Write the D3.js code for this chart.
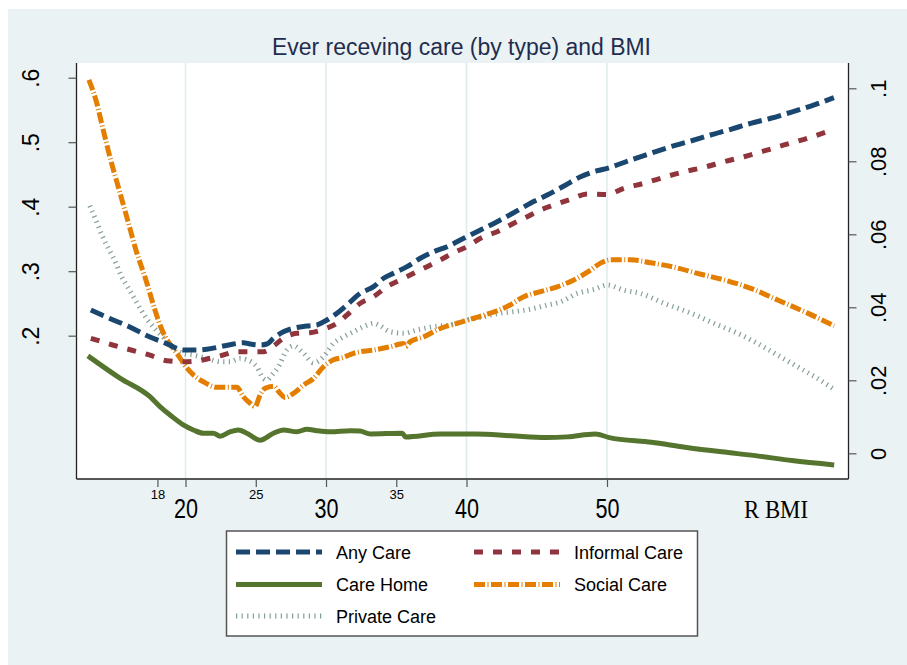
<!DOCTYPE html>
<html><head><meta charset="utf-8">
<script src="https://cdn.jsdelivr.net/npm/d3@7"></script>
<style>body{margin:0;background:#fff}svg{display:block}</style>
</head><body><svg id="c" width="907" height="665"></svg>
<script>
// ---- data (BMI, value) ----
const title = "Ever receving care (by type) and BMI";
const xTitle = "R BMI";
const xMajorTicks = [20, 30, 40, 50];
const xMinorTicks = [18, 25, 35];
const leftTicks = [0.2, 0.3, 0.4, 0.5, 0.6];
const rightTicks = [0, 0.02, 0.04, 0.06, 0.08, 0.1];
const seriesNames = ["Any Care", "Informal Care", "Care Home", "Social Care", "Private Care"];

// left axis series
const anyCare = [[13.26,0.2398],[14.57,0.2270],[15.99,0.2140],[17.31,0.1995],[18.61,0.1882],[19.84,0.1778],[20.75,0.1778],[21.51,0.1789],[22.46,0.1829],[23.41,0.1871],[24.12,0.1891],[24.60,0.1871],[25.31,0.1856],[25.79,0.1871],[26.26,0.1960],[26.97,0.2062],[27.68,0.2115],[28.64,0.2150],[29.35,0.2166],[30.06,0.2243],[30.78,0.2347],[31.49,0.2476],[32.44,0.2657],[33.39,0.2760],[34.10,0.2890],[34.81,0.2967],[35.77,0.3070],[36.71,0.3200],[37.66,0.3302],[38.62,0.3380],[39.80,0.3510],[40.99,0.3639],[42.18,0.3767],[43.36,0.3907],[44.55,0.4053],[45.74,0.4181],[46.93,0.4321],[48.12,0.4465],[49.31,0.4558],[50.02,0.4595],[51.68,0.4724],[53.11,0.4828],[54.53,0.4930],[55.96,0.5019],[57.38,0.5112],[58.81,0.5200],[60.23,0.5293],[61.66,0.5371],[63.08,0.5464],[64.51,0.5561],[66.15,0.5690]];
const informalCare = [[13.26,0.1960],[14.81,0.1856],[16.12,0.1778],[17.42,0.1701],[18.66,0.1612],[19.84,0.1597],[20.80,0.1608],[21.75,0.1650],[22.69,0.1701],[23.65,0.1752],[24.60,0.1752],[25.55,0.1752],[26.26,0.1840],[26.97,0.1960],[27.93,0.2037],[28.87,0.2047],[29.82,0.2099],[30.78,0.2192],[31.49,0.2321],[32.44,0.2502],[33.39,0.2605],[34.34,0.2760],[35.29,0.2864],[36.24,0.2967],[37.19,0.3070],[38.14,0.3174],[39.09,0.3287],[40.04,0.3380],[40.99,0.3510],[42.18,0.3612],[43.36,0.3743],[44.32,0.3845],[45.27,0.3949],[46.22,0.4026],[47.41,0.4115],[48.60,0.4197],[50.02,0.4189],[51.20,0.4285],[52.63,0.4363],[54.06,0.4456],[55.48,0.4543],[56.91,0.4611],[58.33,0.4698],[59.76,0.4775],[61.18,0.4864],[62.61,0.4957],[64.03,0.5045],[66.0,0.5189]];
// right axis series
const careHome = [[13.05,0.0267],[15.33,0.0206],[17.47,0.0155],[18.18,0.0128],[18.90,0.0105],[19.84,0.0078],[20.56,0.0064],[21.27,0.0055],[21.98,0.0055],[22.46,0.0047],[23.17,0.0059],[23.76,0.0064],[24.36,0.0055],[25.31,0.0036],[26.26,0.0055],[26.97,0.0064],[27.93,0.0059],[28.64,0.0066],[29.35,0.0062],[30.30,0.0059],[31.73,0.0062],[32.41,0.0061],[33.16,0.0053],[35.42,0.0055],[35.67,0.0045],[38.17,0.0053],[40.66,0.0053],[43.16,0.0048],[45.67,0.0043],[47.17,0.0045],[49.17,0.0053],[50.17,0.0043],[53.17,0.0030],[55.67,0.0016],[58.17,0.0004],[60.68,-0.0007],[63.17,-0.0020],[66.17,-0.0032]];
const socialCare = [[13.12,0.1023],[13.62,0.0968],[14.14,0.0886],[14.67,0.0804],[15.28,0.0721],[15.88,0.0639],[16.47,0.0557],[17.18,0.0475],[17.78,0.0398],[18.13,0.0357],[18.56,0.0319],[19.09,0.0289],[19.56,0.0264],[19.84,0.0247],[20.56,0.0215],[21.27,0.0196],[22.22,0.0181],[23.17,0.0181],[23.65,0.0181],[24.12,0.0155],[24.60,0.0137],[24.95,0.0128],[25.31,0.0160],[25.67,0.0178],[26.26,0.0184],[26.74,0.0164],[27.09,0.0153],[27.68,0.0164],[28.40,0.0187],[29.11,0.0205],[29.82,0.0237],[30.53,0.0256],[31.25,0.0263],[31.96,0.0274],[33.39,0.0283],[34.58,0.0292],[35.52,0.0301],[35.65,0.0292],[36.00,0.0306],[36.95,0.0319],[38.14,0.0342],[39.33,0.0356],[40.51,0.0370],[41.70,0.0384],[42.89,0.0402],[44.08,0.0429],[45.27,0.0443],[46.46,0.0456],[47.64,0.0475],[48.83,0.0502],[49.54,0.0521],[50.26,0.0530],[51.68,0.0530],[53.11,0.0522],[54.77,0.0510],[56.44,0.0493],[58.33,0.0475],[60.23,0.0452],[62.14,0.0420],[64.28,0.0384],[66.17,0.0349]];
const privateCare = [[13.19,0.0678],[13.62,0.0639],[14.10,0.0593],[14.57,0.0557],[15.05,0.0521],[15.40,0.0488],[15.88,0.0456],[16.35,0.0425],[16.83,0.0393],[17.31,0.0365],[17.90,0.0338],[18.49,0.0315],[19.09,0.0292],[19.80,0.0274],[20.56,0.0269],[21.51,0.0260],[22.46,0.0251],[23.17,0.0251],[23.88,0.0260],[24.36,0.0256],[25.07,0.0237],[25.55,0.0205],[25.79,0.0201],[26.15,0.0215],[26.61,0.0237],[27.21,0.0283],[27.68,0.0294],[28.40,0.0274],[29.11,0.0248],[29.82,0.0265],[30.53,0.0301],[31.25,0.0319],[31.96,0.0333],[32.67,0.0347],[33.39,0.0356],[33.86,0.0349],[34.58,0.0333],[35.52,0.0329],[36.48,0.0338],[37.66,0.0347],[38.85,0.0352],[40.04,0.0365],[41.23,0.0374],[42.42,0.0384],[43.36,0.0388],[44.55,0.0395],[45.74,0.0406],[46.69,0.0415],[47.88,0.0438],[49.07,0.0449],[50.02,0.0461],[51.20,0.0447],[52.40,0.0438],[54.06,0.0411],[55.96,0.0384],[57.86,0.0352],[59.29,0.0329],[60.71,0.0301],[62.14,0.0269],[63.57,0.0237],[64.99,0.0205],[66.06,0.0178]];

// ---- drawing ----
const svg = d3.select("#c");
const W = 907, H = 665;
const P = {l: 76.5, r: 848.5, t: 63, b: 479};

svg.append("rect").attr("width", W).attr("height", H).attr("fill", "#ffffff");
svg.append("rect").attr("x", 8).attr("y", 9).attr("width", W - 8).attr("height", H - 9).attr("fill", "#eaf2f3");
svg.append("rect").attr("x", P.l).attr("y", P.t).attr("width", P.r - P.l).attr("height", P.b - P.t).attr("fill", "#ffffff");

const x = d3.scaleLinear().domain([12.24, 67.19]).range([P.l, P.r]);
const yL = d3.scaleLinear().domain([-0.0222, 0.6228]).range([P.b, P.t]);
const yR = d3.scaleLinear().domain([-0.00704, 0.10693]).range([P.b, P.t]);

// grid
svg.append("g").selectAll("line").data(xMajorTicks).join("line")
  .attr("x1", d => x(d)).attr("x2", d => x(d)).attr("y1", P.t).attr("y2", P.b)
  .attr("stroke", "#e0ebee").attr("stroke-width", 1.6);

const fmt = d => d === 0 ? "0" : String(+d.toFixed(2)).replace(/^0/, "");
const FONT = "'Liberation Sans', Arial, sans-serif";

// left axis
const gL = svg.append("g").attr("transform", `translate(${P.l},0)`)
  .call(d3.axisLeft(yL).tickValues(leftTicks).tickFormat(fmt).tickSize(8).tickSizeOuter(0));
gL.select(".domain").attr("d", `M0,${P.t}V${P.b}`);
gL.selectAll("text").attr("x", null).attr("dy", null).attr("y", -37.5)
  .attr("transform", "rotate(-90)").attr("text-anchor", "middle")
  .attr("font-family", FONT).attr("font-size", 23).attr("fill", "#000");

// right axis
const gR = svg.append("g").attr("transform", `translate(${P.r},0)`)
  .call(d3.axisRight(yR).tickValues(rightTicks).tickFormat(fmt).tickSize(8).tickSizeOuter(0));
gR.select(".domain").attr("d", `M0,${P.t}V${P.b}`);
gR.selectAll("text").attr("x", null).attr("dy", null).attr("y", 37)
  .attr("transform", "rotate(-90)").attr("text-anchor", "middle")
  .attr("font-family", FONT).attr("font-size", 22).attr("fill", "#000");

// bottom axis (major)
const gB = svg.append("g").attr("transform", `translate(0,${P.b})`)
  .call(d3.axisBottom(x).tickValues(xMajorTicks).tickFormat(d3.format("d")).tickSize(8).tickSizeOuter(0));
gB.select(".domain").attr("d", `M${P.l},0H${P.r}`);
gB.selectAll("text").attr("y", 38.5).attr("dy", null)
  .attr("font-family", FONT).attr("font-size", 27).attr("fill", "#000")
  .attr("textLength", 24).attr("lengthAdjust", "spacingAndGlyphs");
// bottom axis (minor)
const gBm = svg.append("g").attr("transform", `translate(0,${P.b})`)
  .call(d3.axisBottom(x).tickValues(xMinorTicks).tickFormat(d3.format("d")).tickSize(8).tickSizeOuter(0));
gBm.select(".domain").remove();
gBm.selectAll("text").attr("y", 20).attr("dy", null)
  .attr("font-family", FONT).attr("font-size", 13).attr("fill", "#000");

svg.selectAll(".tick line").attr("stroke", "#555").attr("stroke-width", 1.2);
svg.selectAll(".domain").attr("stroke", "#222").attr("stroke-width", 1.3);

// x title
svg.append("text").attr("x", 776).attr("y", 518).attr("text-anchor", "middle")
  .attr("font-family", "'Liberation Serif', 'Times New Roman', serif").attr("font-size", 26)
  .attr("textLength", 64).attr("lengthAdjust", "spacingAndGlyphs").text(xTitle);

// title
svg.append("text").attr("x", 461.5).attr("y", 55).attr("text-anchor", "middle")
  .attr("font-family", FONT).attr("font-size", 23).attr("fill", "#1f2d4e")
  .attr("textLength", 379).attr("lengthAdjust", "spacingAndGlyphs").text(title);

// lines
const styles = {
  "Any Care":     {data: anyCare, y: yL, color: "#1a476f", dash: "14,6", w: 5, op: 1},
  "Informal Care":{data: informalCare, y: yL, color: "#90353b", dash: "9,10", w: 5, op: 1},
  "Care Home":    {data: careHome, y: yR, color: "#55752f", dash: null, w: 5, op: 1},
  "Social Care":  {data: socialCare, y: yR, color: "#e37e00", dash: "11,2.5,1,2.5", w: 5, op: 1},
  "Private Care": {data: privateCare, y: yR, color: "#6e8e84", dash: "1.2,4.4", w: 5, op: 0.85}
};
svg.append("defs").append("clipPath").attr("id", "pc").append("rect")
  .attr("x", P.l).attr("y", P.t).attr("width", P.r - P.l).attr("height", P.b - P.t);
const gLines = svg.append("g").attr("clip-path", "url(#pc)");
["Private Care", "Care Home", "Social Care", "Informal Care", "Any Care"].forEach(n => {
  const s = styles[n];
  const line = d3.line().x(d => x(d[0])).y(d => s.y(d[1])).curve(d3.curveMonotoneX);
  gLines.append("path").datum(s.data).attr("d", line).attr("fill", "none")
    .attr("stroke", s.color).attr("stroke-width", s.w).attr("stroke-opacity", s.op)
    .attr("stroke-dasharray", s.dash).attr("stroke-linejoin", "round");
});

// legend
const lg = svg.append("g");
lg.append("rect").attr("x", 226.5).attr("y", 531).attr("width", 471).attr("height", 105)
  .attr("fill", "#fff").attr("stroke", "#555").attr("stroke-width", 1.5);
const legPos = [
  {n: "Any Care", x: 236, y: 552}, {n: "Informal Care", x: 474, y: 552},
  {n: "Care Home", x: 236, y: 584.5}, {n: "Social Care", x: 474, y: 584.5},
  {n: "Private Care", x: 236, y: 616}
];
legPos.forEach(p => {
  const s = styles[p.n];
  lg.append("line").attr("x1", p.x).attr("x2", p.x + 86).attr("y1", p.y).attr("y2", p.y)
    .attr("stroke", s.color).attr("stroke-width", s.w).attr("stroke-opacity", s.op)
    .attr("stroke-dasharray", s.dash);
  lg.append("text").attr("x", p.x + 100).attr("y", p.y + 6.5)
    .attr("font-family", FONT).attr("font-size", 18).attr("fill", "#000").text(p.n);
});
</script></body></html>
